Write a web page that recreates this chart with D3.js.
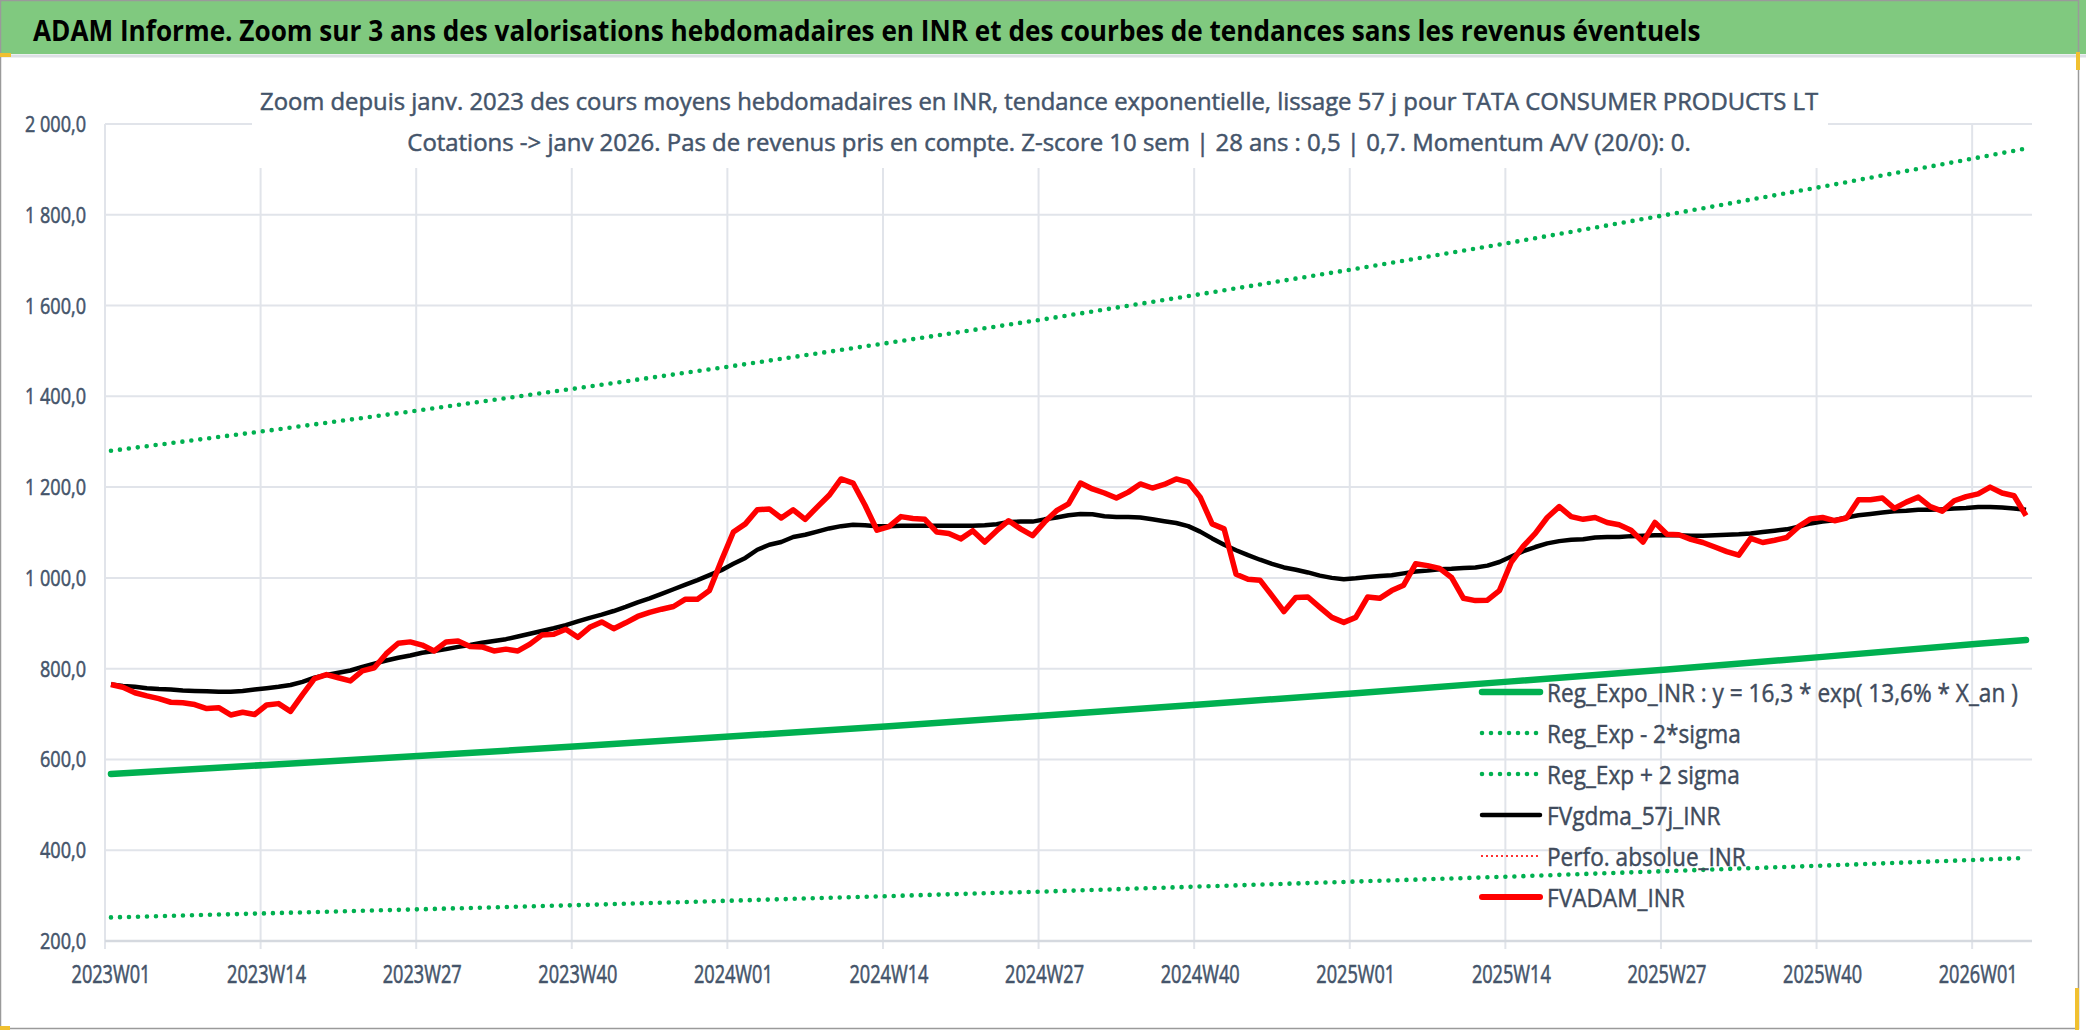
<!DOCTYPE html>
<html>
<head>
<meta charset="utf-8">
<script src="https://cdn.jsdelivr.net/npm/d3@7"></script>
<style>
  body { margin: 0; background: #fff; }
  svg { display: block; }
</style>
</head>
<body>
<div id="chart"></div>
<script>
// week categories 2023W01 .. 2026W05
const years = [2023, 2024, 2025, 2026];
const weeksPerYear = [52, 52, 52, 5];
const weeks = [];
years.forEach((y, k) => {
  for (let w = 1; w <= weeksPerYear[k]; w++) weeks.push(y + "W" + String(w).padStart(2, "0"));
});

const tickWeeks = ["2023W01", "2023W14", "2023W27", "2023W40", "2024W01", "2024W14", "2024W27",
  "2024W40", "2025W01", "2025W14", "2025W27", "2025W40", "2026W01"];
const yTicks = [200, 400, 600, 800, 1000, 1200, 1400, 1600, 1800, 2000];

// FVADAM_INR (red)
const fvadam = [765, 759, 747, 740, 734, 726, 725, 721, 712, 714, 698, 704, 699, 720, 723, 706, 743, 778, 787, 780,
  773, 795, 802, 833, 856, 859, 852, 839, 859, 861, 849, 848, 839, 843, 839, 854, 874, 876, 887, 869,
  891, 903, 888, 901, 915, 924, 931, 937, 953, 953, 972, 1038, 1101, 1119, 1150, 1152, 1132, 1150, 1129, 1156,
  1182, 1218, 1209, 1160, 1105, 1113, 1135, 1131, 1129, 1101, 1098, 1086, 1104, 1079, 1104, 1126, 1108, 1093, 1123, 1148,
  1163, 1209, 1196, 1187, 1176, 1189, 1207, 1198, 1206, 1218, 1211, 1178, 1119, 1108, 1008, 997, 995, 961, 926, 957,
  958, 935, 913, 902, 913, 958, 955, 972, 984, 1031, 1027, 1021, 1001, 955, 950, 951, 972, 1035, 1070, 1098,
  1133, 1157, 1135, 1129, 1133, 1122, 1117, 1105, 1079, 1122, 1096, 1095, 1085, 1078, 1068, 1058, 1050, 1087, 1078, 1083,
  1089, 1113, 1130, 1133, 1126, 1132, 1172, 1172, 1176, 1153, 1167, 1178, 1157, 1147, 1170, 1179, 1185, 1200, 1187, 1181,
  1137];

// FVgdma_57j_INR (black)
const fvgdma = [765, 762, 760, 757, 755, 754, 752, 751, 750, 749, 749, 751, 754, 757, 760, 764, 771, 780, 786, 791,
  796, 804, 811, 818, 824, 829, 835, 839, 843, 848, 852, 857, 861, 865, 871, 877, 883, 889, 896, 904,
  912, 919, 927, 936, 946, 955, 965, 975, 985, 995, 1006, 1017, 1031, 1044, 1062, 1073, 1079, 1090, 1095, 1102,
  1109, 1114, 1117, 1116, 1114, 1114, 1115, 1115, 1115, 1115, 1115, 1115, 1115, 1116, 1118, 1123, 1124, 1124, 1129, 1133,
  1138, 1141, 1140, 1136, 1134, 1134, 1133, 1129, 1125, 1121, 1114, 1102, 1087, 1073, 1061, 1050, 1040, 1031, 1023, 1018,
  1012, 1005, 1000, 997, 999, 1002, 1004, 1006, 1010, 1014, 1016, 1019, 1020, 1022, 1023, 1027, 1035, 1047, 1059, 1068,
  1076, 1081, 1084, 1085, 1089, 1090, 1090, 1092, 1093, 1094, 1094, 1094, 1093, 1093, 1094, 1095, 1096, 1098, 1101, 1104,
  1107, 1113, 1120, 1124, 1127, 1133, 1138, 1141, 1144, 1147, 1148, 1150, 1150, 1151, 1153, 1154, 1156, 1156, 1155, 1153,
  1150];

// regression curves, read at the tick weeks and at the last week
const regWeeks = ["2023W01", "2023W14", "2023W27", "2023W40", "2024W01", "2024W14", "2024W27",
  "2024W40", "2025W01", "2025W14", "2025W27", "2025W40", "2026W01", "2026W05"];
const regExpo = [568, 588, 608, 629, 651, 673, 697, 721, 746, 772, 798, 826, 855, 863];
const regLow = [252, 261, 270, 279, 289, 299, 309, 320, 331, 342, 354, 366, 379, 383];
const regHigh = [1280, 1324, 1370, 1418, 1467, 1518, 1570, 1625, 1681, 1739, 1800, 1862, 1926, 1946];

const legendItems = [
  { label: "Reg_Expo_INR : y = 16,3 * exp( 13,6% *  X_an )", color: "#00b050", width: 6.5, dash: null },
  { label: "Reg_Exp - 2*sigma", color: "#00b050", width: 4.6, dash: "0 9" },
  { label: "Reg_Exp + 2 sigma", color: "#00b050", width: 4.6, dash: "0 9" },
  { label: "FVgdma_57j_INR", color: "#000000", width: 4.5, dash: null },
  { label: "Perfo. absolue_INR", color: "#ff0000", width: 2.2, dash: "0 5" },
  { label: "FVADAM_INR", color: "#ff0000", width: 6, dash: null }
];

const W = 2086, H = 1031;
const FONT = "'Open Sans','Noto Sans',sans-serif";
const TXT = "#44546a";
const plot = { left: 105, right: 2032, top: 124, bottom: 941 };

// the original uses a narrow font: shrink the glyphs sideways by k, keep their height
function squeeze(sel, k) {
  sel.each(function () {
    const t = d3.select(this);
    const fs = +t.attr("font-size");
    const x0 = +t.attr("x"), y0 = +t.attr("y");
    t.attr("font-size", fs * k).attr("x", 0).attr("y", 0)
      .attr("transform", `translate(${x0},${y0}) scale(1,${1 / k})`);
  });
}
const ratio = (node, target) => target / node.getComputedTextLength();

const svg = d3.select("#chart").append("svg")
  .attr("width", W).attr("height", H)
  .style("font-family", FONT);

svg.append("rect").attr("width", W).attr("height", H).attr("fill", "#fff");

// title band
svg.append("rect").attr("x", 0).attr("y", 0).attr("width", W).attr("height", 54).attr("fill", "#80c97f");
svg.append("line").attr("x1", 0).attr("x2", W).attr("y1", 56).attr("y2", 56)
  .attr("stroke", "#dcdfe4").attr("stroke-width", 3);
const title = svg.append("text")
  .attr("x", 33).attr("y", 41)
  .attr("font-size", 29).attr("font-weight", "bold").attr("fill", "#000")
  .text("ADAM Informe. Zoom sur 3 ans des valorisations hebdomadaires en INR et des courbes de tendances sans les revenus éventuels");
title.call(squeeze, ratio(title.node(), 1668));

const fr = d3.formatLocale({ decimal: ",", thousands: "\u00a0", grouping: [3], currency: ["", " €"] });
const fmt = fr.format(",.1f");

const x = d3.scaleBand().domain(weeks).range([plot.left, plot.right]).paddingInner(0).paddingOuter(0);
const cx = d => x(d) + x.bandwidth() / 2;
const y = d3.scaleLinear().domain([200, 2000]).range([plot.bottom, plot.top]);

// horizontal gridlines
svg.append("g")
  .selectAll("line").data(yTicks.filter(v => v > 200)).join("line")
  .attr("x1", plot.left).attr("x2", plot.right)
  .attr("y1", d => y(d)).attr("y2", d => y(d))
  .attr("stroke", "#e1e4ea").attr("stroke-width", 2);

// vertical gridlines + ticks
svg.append("g")
  .selectAll("line").data(tickWeeks).join("line")
  .attr("x1", d => x(d)).attr("x2", d => x(d))
  .attr("y1", plot.top).attr("y2", plot.bottom + 8)
  .attr("stroke", "#e1e4ea").attr("stroke-width", 2);

// x axis line
svg.append("line")
  .attr("x1", plot.left).attr("x2", plot.right)
  .attr("y1", plot.bottom).attr("y2", plot.bottom)
  .attr("stroke", "#d5d9df").attr("stroke-width", 2.5);

// y labels
const yLab = svg.append("g")
  .attr("fill", TXT).attr("stroke", TXT).attr("stroke-width", 0.45)
  .selectAll("text").data(yTicks).join("text")
  .attr("x", 86).attr("y", d => y(d) + 8)
  .attr("text-anchor", "end")
  .attr("font-size", 22.5)
  .text(d => fmt(d));
yLab.call(squeeze, ratio(yLab.filter(d => d === 800).node(), 46));

// x labels
const xLab = svg.append("g")
  .attr("fill", TXT).attr("stroke", TXT).attr("stroke-width", 0.45)
  .selectAll("text").data(tickWeeks).join("text")
  .attr("x", d => cx(d)).attr("y", 983)
  .attr("text-anchor", "middle")
  .attr("font-size", 25.5)
  .text(d => d);
xLab.call(squeeze, ratio(xLab.node(), 79));

// subtitle box (hides the grid behind it)
svg.append("rect").attr("x", 252).attr("y", 62).attr("width", 1576).attr("height", 106).attr("fill", "#fff");
const sub = svg.append("g").attr("fill", TXT).attr("stroke", TXT).attr("stroke-width", 0.5)
  .attr("text-anchor", "middle");
const sub1 = sub.append("text").attr("x", 1039).attr("y", 110).attr("font-size", 24)
  .text("Zoom depuis janv. 2023 des cours moyens hebdomadaires en INR, tendance exponentielle, lissage 57 j pour TATA CONSUMER PRODUCTS LT");
sub1.call(squeeze, ratio(sub1.node(), 1559));
const sub2 = sub.append("text").attr("x", 1049).attr("y", 151).attr("font-size", 24)
  .text("Cotations -> janv 2026. Pas de revenus pris en compte. Z-score 10 sem | 28 ans : 0,5 | 0,7. Momentum A/V (20/0): 0.");
sub2.call(squeeze, ratio(sub2.node(), 1284));

// series
const line = d3.line().x(d => cx(d[0])).y(d => y(d[1]));
const zipW = (cats, vals) => cats.map((c, i) => [c, vals[i]]);

svg.append("path").datum(zipW(regWeeks, regExpo)).attr("d", line)
  .attr("fill", "none").attr("stroke", "#00b050").attr("stroke-width", 6.5).attr("stroke-linecap", "round");
svg.append("path").datum(zipW(regWeeks, regLow)).attr("d", line)
  .attr("fill", "none").attr("stroke", "#00b050").attr("stroke-width", 4.6)
  .attr("stroke-linecap", "round").attr("stroke-dasharray", "0 9");
svg.append("path").datum(zipW(regWeeks, regHigh)).attr("d", line)
  .attr("fill", "none").attr("stroke", "#00b050").attr("stroke-width", 4.6)
  .attr("stroke-linecap", "round").attr("stroke-dasharray", "0 9");
svg.append("path").datum(zipW(weeks, fvgdma)).attr("d", line)
  .attr("fill", "none").attr("stroke", "#000").attr("stroke-width", 4.5).attr("stroke-linejoin", "round");
svg.append("path").datum(zipW(weeks, fvadam)).attr("d", line)
  .attr("fill", "none").attr("stroke", "#ff0000").attr("stroke-width", 5.5).attr("stroke-linejoin", "round");

// legend
const lg = svg.append("g").attr("transform", "translate(1482,692)");
const rows = lg.selectAll("g").data(legendItems).join("g")
  .attr("transform", (d, i) => `translate(0,${i * 41})`);
rows.append("line")
  .attr("x1", 0).attr("x2", 58).attr("y1", 0).attr("y2", 0)
  .attr("stroke", d => d.color).attr("stroke-width", d => d.width)
  .attr("stroke-linecap", "round")
  .attr("stroke-dasharray", d => d.dash);
const lgText = rows.append("text")
  .attr("x", 65).attr("y", 9.5)
  .attr("font-size", 26).attr("fill", "#404b5c")
  .attr("stroke", "#404b5c").attr("stroke-width", 0.4)
  .text(d => d.label);
lgText.call(squeeze, ratio(lgText.node(), 471));

// frame
svg.append("rect").attr("x", 0.5).attr("y", 0.5).attr("width", 2078).attr("height", 1028)
  .attr("fill", "none").attr("stroke", "#9a9a9a").attr("stroke-width", 1.5);
svg.append("rect").attr("x", 0).attr("y", 53).attr("width", 11).attr("height", 4).attr("fill", "#f0c030");
svg.append("rect").attr("x", 2076).attr("y", 52).attr("width", 4).attr("height", 18).attr("fill", "#f0c030");
svg.append("rect").attr("x", 0).attr("y", 1026).attr("width", 10).attr("height", 4).attr("fill", "#f0c030");
svg.append("rect").attr("x", 2075).attr("y", 988).attr("width", 4).attr("height", 42).attr("fill", "#f0c030");
</script>
</body>
</html>
